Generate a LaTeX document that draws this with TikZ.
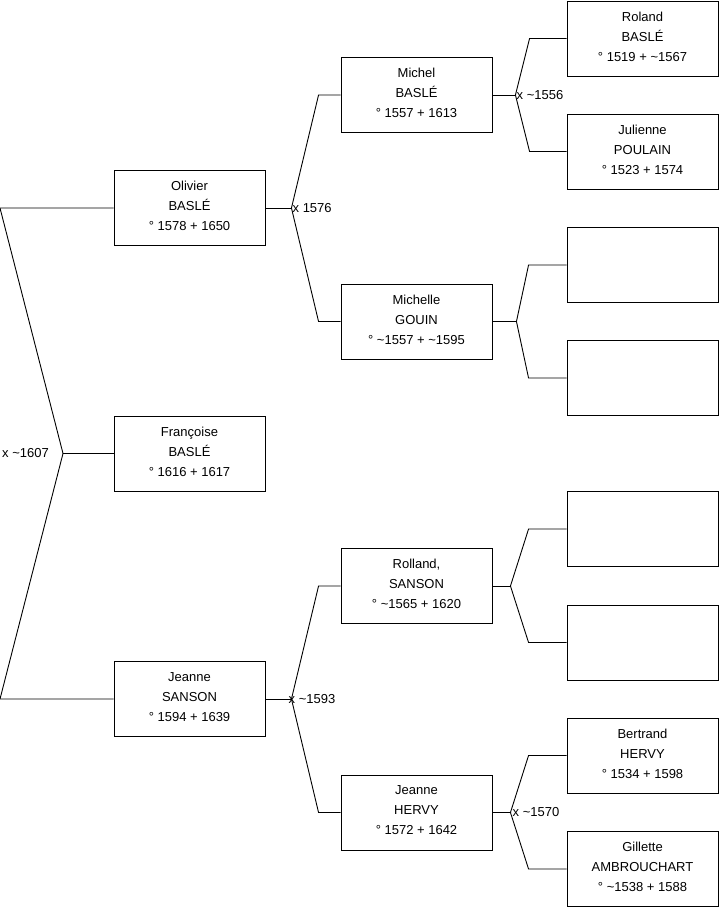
\documentclass[tikz,border=0pt]{standalone}
\usepackage{fontspec}
\setmainfont{Liberation Sans}
\usetikzlibrary{positioning}

\newcommand{\envir}{\textasciitilde}

\tikzset{
  person/.style={draw, line width=0.9pt, minimum width=151pt, minimum height=75pt,
    inner sep=0pt, align=center, font=\fontsize{13}{20}\selectfont,
    execute at end node={\rule[-4pt]{0pt}{4pt}}},
  link/.style={line width=0.9pt},
  union/.style={inner sep=1pt, font=\fontsize{13}{15}\selectfont}
}

\begin{document}
\begin{tikzpicture}[x=1pt,y=-1pt]
		\useasboundingbox (0,0) rectangle (719,908);
		% Generation 1
		\node[person] (olivier) at (189.5,208) {Olivier\\BASLÉ\\° 1578 + 1650};
		\node[person] (francoise) at (189.5,453.5) {Françoise\\BASLÉ\\° 1616 + 1617};
		\node[person] (jsanson) at (189.5,699) {Jeanne\\SANSON\\° 1594 + 1639};
		% Generation 2
		\node[person] (michel) at (416.5,95) {Michel\\BASLÉ\\° 1557 + 1613};
		\node[person] (michelle) at (416.5,321.5) {Michelle\\GOUIN\\° \envir1557 + \envir1595};
		\node[person] (rolland) at (416.5,586) {Rolland,\\SANSON\\° \envir1565 + 1620};
		\node[person] (jhervy) at (416.5,812.5) {Jeanne\\HERVY\\° 1572 + 1642};
		% Generation 3
		\node[person] (roland) at (642.5,38.5) {Roland\\BASLÉ\\° 1519 + \envir1567};
		\node[person] (julienne) at (642.5,151.5) {Julienne\\POULAIN\\° 1523 + 1574};
		\node[person] (inconnu1) at (642.5,265) {};
		\node[person] (inconnu2) at (642.5,378) {};
		\node[person] (inconnu3) at (642.5,529) {};
		\node[person] (inconnu4) at (642.5,642.5) {};
		\node[person] (bertrand) at (642.5,755.5) {Bertrand\\HERVY\\° 1534 + 1598};
		\node[person] (gillette) at (642.5,869) {Gillette\\AMBROUCHART\\° \envir1538 + 1588};

		% Root fork
		\coordinate (rfork) at (63,453.5);
		\coordinate (rtop) at (0,208);
		\coordinate (rbot) at (0,699);
		\draw[link] (olivier.west) -- (rtop) -- (rfork) -- (rbot) -- (jsanson.west);
		\draw[link] (rfork) -- (francoise.west);
		\node[union, left=13pt of rfork] (u1607) {x \envir1607};

		% Olivier's parents
		\coordinate[right=26pt of olivier] (ofork);
		\coordinate[left=22pt of michel] (otop);
		\coordinate[left=22pt of michelle] (obot);
		\draw[link] (olivier.east) -- (ofork);
		\draw[link] (michel.west) -- (otop) -- (ofork) -- (obot) -- (michelle.west);
		\node[union, right=0pt of ofork] (u1576) {x 1576};

		% Jeanne Sanson's parents
		\coordinate[right=26pt of jsanson] (jsfork);
		\coordinate[left=22pt of rolland] (jstop);
		\coordinate[left=22pt of jhervy] (jsbot);
		\draw[link] (jsanson.east) -- (jsfork);
		\draw[link] (rolland.west) -- (jstop) -- (jsfork) -- (jsbot) -- (jhervy.west);
		\node[union, right=-4pt of jsfork] (u1593) {x \envir1593};

		% Michel's parents
		\coordinate[right=23pt of michel] (mfork);
		\coordinate[left=37pt of roland] (mtop);
		\coordinate[left=37pt of julienne] (mbot);
		\draw[link] (michel.east) -- (mfork);
		\draw[link] (roland.west) -- (mtop) -- (mfork) -- (mbot) -- (julienne.west);
		\node[union, right=0pt of mfork] (u1556) {x \envir1556};

		% Michelle's parents
		\coordinate[right=24pt of michelle] (gfork);
		\coordinate[left=38pt of inconnu1] (gtop);
		\coordinate[left=38pt of inconnu2] (gbot);
		\draw[link] (michelle.east) -- (gfork);
		\draw[link] (inconnu1.west) -- (gtop) -- (gfork) -- (gbot) -- (inconnu2.west);

		% Rolland's parents
		\coordinate[right=18pt of rolland] (rlfork);
		\coordinate[left=38pt of inconnu3] (rltop);
		\coordinate[left=38pt of inconnu4] (rlbot);
		\draw[link] (rolland.east) -- (rlfork);
		\draw[link] (inconnu3.west) -- (rltop) -- (rlfork) -- (rlbot) -- (inconnu4.west);

		% Jeanne Hervy's parents
		\coordinate[right=18pt of jhervy] (hfork);
		\coordinate[left=38pt of bertrand] (htop);
		\coordinate[left=38pt of gillette] (hbot);
		\draw[link] (jhervy.east) -- (hfork);
		\draw[link] (bertrand.west) -- (htop) -- (hfork) -- (hbot) -- (gillette.west);
		\node[union, right=1pt of hfork] (u1570) {x \envir1570};
	\end{tikzpicture}
\end{document}
